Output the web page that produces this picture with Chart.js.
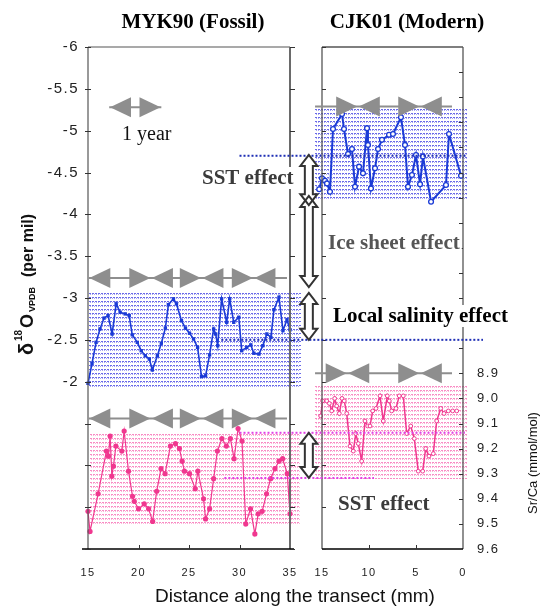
<!DOCTYPE html>
<html><head><meta charset="utf-8">
<script src="https://cdn.jsdelivr.net/npm/chart.js@4.4.0/dist/chart.umd.min.js"></script>
<style>
html,body{margin:0;padding:0;background:#fff;}
#wrap{position:relative;width:543px;height:608px;overflow:hidden;background:#fff;}
canvas{position:absolute;left:0;top:0;}
</style></head><body>
<div id="wrap"><canvas id="cL" width="543" height="608"></canvas><canvas id="cR" width="543" height="608"></canvas></div>
<script>
// ---------------- DATA ----------------
// MYK90 (fossil) – distance along transect (mm) and δ18O (‰ VPDB)
const mykO18Dist = [15.0,15.4,15.8,16.19,16.59,16.99,17.39,17.79,18.18,18.68,19.08,19.38,19.88,20.27,20.67,21.07,21.37,21.87,22.26,22.66,22.96,23.46,23.76,24.25,24.65,25.05,25.45,25.85,26.24,26.64,27.04,27.44,27.64,27.84,28.23,28.73,29.03,29.43,29.93,30.22,30.72,31.12,31.42,31.92,32.31,32.71,33.11,33.41,33.91,34.30,34.70,35.0];
const mykO18 = [-1.98,-2.22,-2.47,-2.63,-2.76,-2.79,-2.57,-2.93,-2.83,-2.81,-2.79,-2.56,-2.47,-2.37,-2.31,-2.27,-2.14,-2.31,-2.46,-2.64,-2.92,-2.99,-2.93,-2.73,-2.64,-2.58,-2.51,-2.41,-2.06,-2.07,-2.32,-2.63,-2.57,-2.43,-2.99,-2.71,-2.99,-2.71,-2.77,-2.37,-2.41,-2.44,-2.34,-2.33,-2.43,-2.57,-2.53,-2.86,-3.01,-2.61,-2.74,-2.62];
// MYK90 (fossil) – Sr/Ca (mmol/mol)
const mykSrDist = [15.0,15.2,16.0,16.82,17.02,17.19,17.36,17.52,17.76,18.35,18.58,19.01,19.41,19.58,20.0,20.57,21.0,21.4,21.8,22.23,22.63,23.16,23.66,24.05,24.32,24.55,25.05,25.62,25.88,26.44,26.64,27.04,27.44,27.81,28.26,28.70,29.10,29.46,29.86,30.25,30.62,31.09,31.52,31.85,32.24,32.68,33.08,33.51,33.91,34.27,34.73,35.0];
const mykSr = [9.45,9.53,9.38,9.21,9.23,9.15,9.31,9.27,9.19,9.21,9.13,9.29,9.39,9.41,9.44,9.42,9.44,9.49,9.37,9.28,9.30,9.19,9.18,9.20,9.25,9.29,9.30,9.36,9.29,9.40,9.48,9.44,9.32,9.21,9.16,9.19,9.16,9.24,9.12,9.17,9.50,9.44,9.54,9.46,9.45,9.38,9.32,9.28,9.25,9.24,9.30,9.46];
// CJK01 (modern) – δ18O
const cjkO18Dist = [15.3,15.0,14.68,14.47,14.15,13.83,12.87,12.66,12.23,11.81,11.49,11.06,10.64,10.21,10.11,9.79,9.36,9.04,8.62,7.87,7.45,6.60,6.17,5.85,5.43,5.0,4.57,4.26,3.40,1.81,1.49,0.21];
const cjkO18 = [-4.30,-4.43,-4.40,-4.37,-4.27,-5.02,-5.20,-5.02,-4.72,-4.78,-4.33,-4.57,-4.49,-5.03,-4.83,-4.31,-4.55,-4.78,-4.89,-4.95,-4.96,-5.16,-4.83,-4.33,-4.47,-4.71,-4.36,-4.69,-4.15,-4.35,-4.96,-4.46];
// CJK01 (modern) – Sr/Ca
const cjkSrDist = [15.14,14.93,14.50,14.22,13.97,13.65,13.44,13.16,12.87,12.63,12.37,12.02,11.67,11.41,11.14,10.78,10.43,10.14,9.89,9.61,9.26,8.83,8.48,8.05,7.84,7.59,7.13,6.78,6.35,5.99,5.56,5.18,4.76,4.29,3.97,3.62,3.16,2.80,2.37,2.02,1.56,1.10,0.67];
const cjkSr = [9.07,9.01,9.01,9.02,9.05,9.00,9.03,9.06,9.00,9.01,9.06,9.19,9.21,9.14,9.18,9.25,9.09,9.11,9.11,9.05,9.04,8.99,9.09,8.99,9.01,9.05,9.04,8.99,8.99,9.14,9.11,9.16,9.29,9.29,9.20,9.23,9.22,9.09,9.04,9.06,9.05,9.05,9.05];

// tick labels
const o18TickLabels = ['-6','-5.5','-5','-4.5','-4','-3.5','-3','-2.5','-2'];
const srTickLabels = ['8.9','9.0','9.1','9.2','9.3','9.4','9.5','9.6'];
const mykDistTicks = [15,20,25,30,35];
const cjkDistTicks = [15,10,5,0];

// range bands (value ranges, distance ranges)
const mykBandO18 = [-3.06,-1.94], mykBandO18X = [15.1,36.0];
const mykBandSr = [9.14,9.50],   mykBandSrX = [15.2,36.0];
const cjkBandO18 = [-5.26,-4.16], cjkBandO18X = [15.74,-0.43];
const cjkBandSr = [8.95,9.32],   cjkBandSrX = [15.74,-0.43];

// annual growth markers (mm)
const mykYearBounds = [15.05,21.25,26.25,31.4];
const mykYearSpan = [15.05,34.7];
const mykRowO18 = -3.24, mykRowSr = 9.08;
const cjkO18YearBounds = [11.17,4.57];
const cjkSrYearBounds = [12.29,4.57];
const cjkYearSpan = [15.74,1.17];
const cjkRowO18 = -5.29, cjkRowSr = 8.9;
const yearLegendSpan = [17.1,22.26], yearLegendLevel = -5.28;

// reference levels: value, start (MYK90 mm), end (CJK01 mm)
const refO18Vals = [-4.70,-2.50], refO18From = [30.0,28.2], refO18To = [-0.3,-2.13];
const refSrVals = [9.137,9.317], refSrFrom = [30.0,28.5], refSrTo = [-0.2,9.47];

// effect arrows (CJK01 distance coordinate for x)
const effectArrowX = 16.4;
const sstO18Range = [-4.71,-4.11];
const iceO18Range = [-4.22,-3.13];
const salO18Range = [-3.06,-2.50];
const sstSrRange = [9.137,9.317];

// ---------------- HELPERS ----------------
const zip = (xs, ys) => xs.map((x, i) => ({x, y: ys[i]}));
const BLUE = '#1b3bd6', PINK = '#f0378f', GREY = '#8e8e8e';
const BLUE_HATCH = ['rgb(105,105,232)', 'rgb(170,170,242)'];
const PINK_HATCH = ['rgb(248,140,196)', 'rgb(251,185,218)'];
const SANS = '"Liberation Sans", Arial, sans-serif';
const SERIF = '"Liberation Serif", "Times New Roman", serif';

function line(ctx, x0, y0, x1, y1) { ctx.beginPath(); ctx.moveTo(x0, y0); ctx.lineTo(x1, y1); ctx.stroke(); }
function hatchBand(ctx, xs, ys, xr, yr, colors) {
  const x0 = xs.getPixelForValue(xr[0]), x1 = xs.getPixelForValue(xr[1]);
  const y0 = ys.getPixelForValue(yr[0]), y1 = ys.getPixelForValue(yr[1]);
  const l = Math.round(Math.min(x0, x1)), r = Math.round(Math.max(x0, x1));
  const t = Math.round(Math.min(y0, y1)), b = Math.max(y0, y1);
  ctx.save();
  for (let y = t; y <= b; y += 4) {
    ctx.fillStyle = colors[0];
    for (let xx = l; xx < r; xx += 3) ctx.fillRect(xx, y, 2, 1);
    if (y + 1 <= b) {
      ctx.fillStyle = colors[1];
      for (let xx = l + 1; xx < r; xx += 2) ctx.fillRect(xx, y + 1, 1, 1);
    }
  }
  ctx.restore();
}
function tri(ctx, tipX, y, dir, w, h) {
  ctx.beginPath(); ctx.moveTo(tipX, y); ctx.lineTo(tipX - dir * w, y - h); ctx.lineTo(tipX - dir * w, y + h); ctx.closePath(); ctx.fill();
}
function yearRow(ctx, xs, y, span, bounds) {
  const p0 = xs.getPixelForValue(span[0]), p1 = xs.getPixelForValue(span[1]);
  const lo = Math.min(p0, p1), hi = Math.max(p0, p1);
  ctx.save(); ctx.strokeStyle = GREY; ctx.fillStyle = GREY; ctx.lineWidth = 2;
  line(ctx, lo, y, hi, y);
  const W = 21, H = 10, g = 0.8;
  bounds.forEach(b => {
    const pb = xs.getPixelForValue(b);
    if (pb - g - W >= lo - 1.5) tri(ctx, pb - g, y, 1, W, H);
    if (pb + g + W <= hi + 1.5) tri(ctx, pb + g, y, -1, W, H);
  });
  ctx.restore();
}
function arrowPath(ctx, xc, ya, yb) {
  const t = Math.min(ya, yb), b = Math.max(ya, yb), hw = 8.5, sw = 4, hl = 11;
  ctx.beginPath();
  ctx.moveTo(xc, t); ctx.lineTo(xc + hw, t + hl); ctx.lineTo(xc + sw, t + hl); ctx.lineTo(xc + sw, b - hl);
  ctx.lineTo(xc + hw, b - hl); ctx.lineTo(xc, b); ctx.lineTo(xc - hw, b - hl); ctx.lineTo(xc - sw, b - hl);
  ctx.lineTo(xc - sw, t + hl); ctx.lineTo(xc - hw, t + hl); ctx.closePath();
}
function text(ctx, s, x, y, font, color, opts = {}) {
  ctx.save(); ctx.letterSpacing = '0px';
  ctx.font = font; ctx.textAlign = opts.align || 'left'; ctx.textBaseline = opts.baseline || 'alphabetic';
  if (opts.bg) {
    const w = ctx.measureText(s).width;
    const lx = opts.align === 'center' ? x - w / 2 : x;
    ctx.fillStyle = '#fff'; ctx.fillRect(lx - 2, y - 17, w + 4, 22);
  }
  ctx.fillStyle = color; ctx.fillText(s, x, y); ctx.restore();
}

// ---------------- LEFT PANEL (MYK90) ----------------
const leftDecor = {
  id: 'leftDecor',
  beforeDraw(chart) { chart.ctx.letterSpacing = '1.5px'; },
  beforeDatasetsDraw(chart) {
    const {ctx, scales: {x, yO, ySr}} = chart;
    hatchBand(ctx, x, yO, mykBandO18X, mykBandO18, BLUE_HATCH);
    hatchBand(ctx, x, ySr, mykBandSrX, mykBandSr, PINK_HATCH);
  },
  afterDatasetsDraw(chart) {
    const {ctx, chartArea: a, scales: {x, yO, ySr}} = chart;
    ctx.save(); ctx.letterSpacing = '0px';
    // frame
    ctx.strokeStyle = '#555'; ctx.lineWidth = 1.2;
    line(ctx, a.left, a.top, a.left, a.bottom);
    line(ctx, a.left, a.top, a.right, a.top);
    ctx.strokeStyle = '#6a6a6a'; ctx.lineWidth = 2;
    line(ctx, a.right, a.top, a.right, a.bottom);
    ctx.strokeStyle = '#000'; ctx.lineWidth = 1.5;
    line(ctx, a.left - 6, a.bottom, a.right + 4, a.bottom);
    // ticks
    ctx.strokeStyle = '#333'; ctx.lineWidth = 1;
    for (let v = -6; v <= 0.001; v += 0.5) {
      const py = Math.round(yO.getPixelForValue(v)) + 0.5;
      line(ctx, a.left - 3, py, a.left + 3, py);
      line(ctx, a.right, py, a.right + 5, py);
    }
    mykDistTicks.slice(1, -1).forEach(v => { const px = Math.round(x.getPixelForValue(v)) + 0.5; line(ctx, px, a.bottom, px, a.bottom - 4); });
    // annual markers
    yearRow(ctx, x, yO.getPixelForValue(mykRowO18), mykYearSpan, mykYearBounds);
    yearRow(ctx, x, ySr.getPixelForValue(mykRowSr), mykYearSpan, mykYearBounds);
    yearRow(ctx, x, yO.getPixelForValue(yearLegendLevel), yearLegendSpan, yearLegendSpan);
    ctx.restore();
    text(ctx, '1 year', 122, 140, '20px ' + SERIF, '#111');
    text(ctx, 'MYK90 (Fossil)', 193, 28, 'bold 21px ' + SERIF, '#000', {align: 'center'});
    // y-axis title
    ctx.save(); ctx.letterSpacing = '0px';
    ctx.translate(33, 355); ctx.rotate(-Math.PI / 2); ctx.fillStyle = '#111'; ctx.textBaseline = 'alphabetic';
    ctx.font = 'bold 20px ' + SANS; ctx.fillText('δ', 0, 0);
    ctx.font = 'bold 10px ' + SANS; ctx.fillText('18', 14, -11);
    ctx.font = 'bold 18px ' + SANS; ctx.fillText('O', 27, 0);
    ctx.font = 'bold 9px ' + SANS; ctx.fillText('VPDB', 43, 2);
    ctx.font = 'bold 16px ' + SANS; ctx.fillText('(per mil)', 78, 0);
    ctx.restore();
  },
  afterDraw(chart) { chart.ctx.letterSpacing = '0px'; }
};

const leftChart = new Chart(document.getElementById('cL'), {
  type: 'line',
  data: {
    datasets: [
      {label: 'MYK90 δ18O', data: zip(mykO18Dist, mykO18), xAxisID: 'x', yAxisID: 'yO',
       borderColor: BLUE, backgroundColor: BLUE, borderWidth: 1.6, pointStyle: 'rect', pointRadius: 2.4,
       pointBorderWidth: 0, tension: 0, clip: false},
      {label: 'MYK90 Sr/Ca', data: zip(mykSrDist, mykSr), xAxisID: 'x', yAxisID: 'ySr',
       borderColor: PINK, backgroundColor: PINK, borderWidth: 1.2, pointStyle: 'circle', pointRadius: 2.6,
       pointBorderWidth: 0, tension: 0, clip: false}
    ]
  },
  options: {
    responsive: false, animation: false, devicePixelRatio: 1,
    layout: {padding: {left: 0, right: 253, top: 47, bottom: 0}},
    plugins: {legend: {display: false}, tooltip: {enabled: false}, title: {display: false}},
    scales: {
      x: {type: 'linear', position: 'bottom', min: 15, max: 35,
          grid: {display: false, drawTicks: false}, border: {display: false},
          ticks: {stepSize: 5, autoSkip: false, maxRotation: 0, padding: 17, color: '#222',
                  font: {family: SANS, size: 11},
                  callback: v => mykDistTicks.includes(Math.round(v)) ? String(Math.round(v)) : ''},
          afterFit: s => { s.height = 59; }},
      yO: {type: 'linear', position: 'left', min: -6, max: 0, reverse: true,
           grid: {display: false, drawTicks: false}, border: {display: false},
           ticks: {stepSize: 0.5, autoSkip: false, padding: 9, color: '#222', font: {family: SANS, size: 15},
                   callback: v => { const s = String(Math.round(v * 2) / 2); return o18TickLabels.includes(s) ? s : ''; }},
           afterFit: s => { s.width = 88; }},
      ySr: {type: 'linear', display: false, min: 7.6, max: 9.6, reverse: true}
    }
  },
  plugins: [leftDecor]
});

// ---------------- RIGHT PANEL (CJK01) ----------------
const rightDecor = {
  id: 'rightDecor',
  beforeDraw(chart) { chart.ctx.letterSpacing = '1.5px'; },
  beforeDatasetsDraw(chart) {
    const {ctx, scales: {x, yO, ySr}} = chart;
    hatchBand(ctx, x, yO, cjkBandO18X, cjkBandO18, BLUE_HATCH);
    hatchBand(ctx, x, ySr, cjkBandSrX, cjkBandSr, PINK_HATCH);
  },
  afterDatasetsDraw(chart) {
    const {ctx, chartArea: a, scales: {x, yO, ySr}} = chart;
    const lx = leftChart.scales.x;
    ctx.save(); ctx.letterSpacing = '0px';
    // frame
    ctx.strokeStyle = '#555'; ctx.lineWidth = 1.3;
    line(ctx, a.left, a.top, a.left, a.bottom);
    line(ctx, a.left, a.top, a.right, a.top);
    line(ctx, a.right, a.top, a.right, a.bottom);
    ctx.strokeStyle = '#000'; ctx.lineWidth = 1.5;
    line(ctx, a.left, a.bottom, a.right, a.bottom);
    // ticks
    ctx.strokeStyle = '#333'; ctx.lineWidth = 1;
    for (let v = -6; v <= 0.001; v += 0.5) { const py = Math.round(yO.getPixelForValue(v)) + 0.5; line(ctx, a.left, py, a.left + 4, py); }
    for (let k = 1; k < 20; k++) { const py = Math.round(ySr.getPixelForValue(7.6 + k * 0.1)) + 0.5; line(ctx, a.right - 4, py, a.right, py); }
    cjkDistTicks.slice(1, -1).forEach(v => { const px = Math.round(x.getPixelForValue(v)) + 0.5; line(ctx, px, a.bottom, px, a.bottom - 4); });
    // annual markers
    yearRow(ctx, x, yO.getPixelForValue(cjkRowO18), cjkYearSpan, cjkO18YearBounds);
    yearRow(ctx, x, ySr.getPixelForValue(cjkRowSr), cjkYearSpan, cjkSrYearBounds);
    // reference levels
    ctx.lineWidth = 2; ctx.setLineDash([2, 2]);
    ctx.strokeStyle = '#1f2fb5';
    refO18Vals.forEach((v, i) => { const py = yO.getPixelForValue(v); line(ctx, lx.getPixelForValue(refO18From[i]), py, x.getPixelForValue(refO18To[i]), py); });
    ctx.strokeStyle = '#e23fe6';
    refSrVals.forEach((v, i) => { const py = ySr.getPixelForValue(v); line(ctx, lx.getPixelForValue(refSrFrom[i]), py, x.getPixelForValue(refSrTo[i]), py); });
    ctx.setLineDash([]);
    // effect arrows
    const ax = x.getPixelForValue(effectArrowX);
    const arrows = [[yO, sstO18Range], [yO, iceO18Range], [yO, salO18Range], [ySr, sstSrRange]];
    ctx.fillStyle = '#fff';
    arrows.forEach(([s, r]) => { arrowPath(ctx, ax, s.getPixelForValue(r[0]), s.getPixelForValue(r[1])); ctx.fill(); });
    ctx.strokeStyle = '#333'; ctx.lineWidth = 2; ctx.lineJoin = 'miter';
    arrows.forEach(([s, r]) => { arrowPath(ctx, ax, s.getPixelForValue(r[0]), s.getPixelForValue(r[1])); ctx.stroke(); });
    ctx.restore();
    // labels
    text(ctx, 'SST effect', 202, 184, 'bold 21px ' + SERIF, '#3a3a3a', {bg: true});
    text(ctx, 'Ice sheet effect', 328, 249, 'bold 21px ' + SERIF, '#555', {bg: true});
    text(ctx, 'Local salinity effect', 333, 322, 'bold 21px ' + SERIF, '#000', {bg: true});
    text(ctx, 'SST effect', 338, 510, 'bold 21px ' + SERIF, '#3a3a3a');
    text(ctx, 'CJK01 (Modern)', 407, 28, 'bold 21px ' + SERIF, '#000', {align: 'center'});
    text(ctx, 'Distance along the transect (mm)', 295, 597, '19px ' + SANS, '#111', {align: 'center', baseline: 'middle'});
    ctx.save(); ctx.letterSpacing = '0px';
    ctx.translate(533, 463); ctx.rotate(-Math.PI / 2);
    ctx.font = '13px ' + SANS; ctx.fillStyle = '#111'; ctx.textAlign = 'center'; ctx.textBaseline = 'middle';
    ctx.fillText('Sr/Ca (mmol/mol)', 0, 0);
    ctx.restore();
  },
  afterDraw(chart) { chart.ctx.letterSpacing = '0px'; }
};

const rightChart = new Chart(document.getElementById('cR'), {
  type: 'line',
  data: {
    datasets: [
      {label: 'CJK01 δ18O', data: zip(cjkO18Dist, cjkO18), xAxisID: 'x', yAxisID: 'yO',
       borderColor: BLUE, backgroundColor: '#fff', borderWidth: 2, pointStyle: 'circle', pointRadius: 2.4,
       pointBorderWidth: 1.3, pointBorderColor: BLUE, tension: 0, clip: false},
      {label: 'CJK01 Sr/Ca', data: zip(cjkSrDist, cjkSr), xAxisID: 'x', yAxisID: 'ySr',
       borderColor: PINK, backgroundColor: '#fff', borderWidth: 1.5, pointStyle: 'circle', pointRadius: 1.9,
       pointBorderWidth: 1, pointBorderColor: PINK, tension: 0, clip: false}
    ]
  },
  options: {
    responsive: false, animation: false, devicePixelRatio: 1,
    layout: {padding: {left: 322, right: 0, top: 47, bottom: 0}},
    plugins: {legend: {display: false}, tooltip: {enabled: false}, title: {display: false}},
    scales: {
      x: {type: 'linear', position: 'bottom', min: 0, max: 15, reverse: true,
          grid: {display: false, drawTicks: false}, border: {display: false},
          ticks: {stepSize: 5, autoSkip: false, maxRotation: 0, padding: 17, color: '#222',
                  font: {family: SANS, size: 11},
                  callback: v => cjkDistTicks.includes(Math.round(v)) ? String(Math.round(v)) : ''},
          afterFit: s => { s.height = 59; }},
      ySr: {type: 'linear', position: 'right', min: 7.6, max: 9.6, reverse: true,
            grid: {display: false, drawTicks: false}, border: {display: false},
            ticks: {stepSize: 0.1, autoSkip: false, padding: 14, color: '#222', font: {family: SANS, size: 13},
                    callback: v => { const s = v.toFixed(1); return srTickLabels.includes(s) ? s : ''; }},
            afterFit: s => { s.width = 80; }},
      yO: {type: 'linear', display: false, min: -6, max: 0, reverse: true}
    }
  },
  plugins: [rightDecor]
});
</script></body></html>
